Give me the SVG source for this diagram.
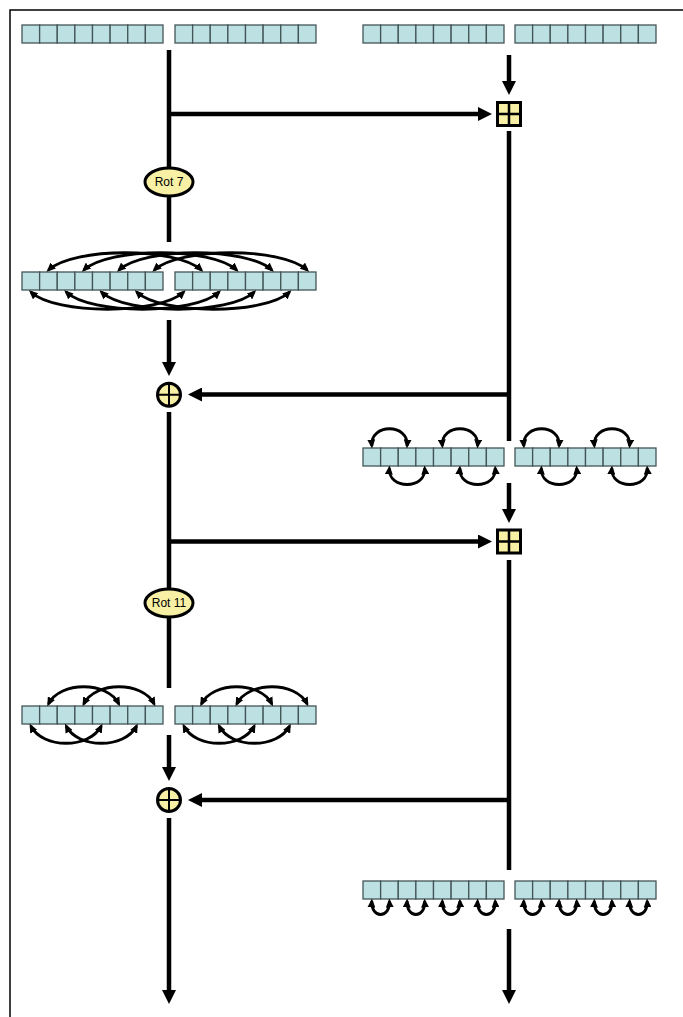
<svg xmlns="http://www.w3.org/2000/svg" width="683" height="1017" viewBox="0 0 683 1017">
<style>
.cell{fill:#bde0e3;stroke:#435556;stroke-width:1.3}
.wire{fill:none;stroke:#000;stroke-width:4.5}
.arr{marker-end:url(#big)}
.arc{fill:none;stroke:#000;stroke-width:2.8;marker-start:url(#sm);marker-end:url(#sm)}
.yel{fill:#f8f0a4;stroke:#000;stroke-width:3}
.lbl{font-family:"Liberation Sans",Arial,sans-serif;font-size:12px;fill:#000;text-anchor:middle}
.frame{fill:none;stroke:#000;stroke-width:1.5}
</style>
<defs>
<marker id="big" viewBox="0 0 14 14" refX="1" refY="7" markerWidth="14" markerHeight="14" markerUnits="userSpaceOnUse" orient="auto"><path d="M0,0 L14,7 L0,14 z" fill="#000"/></marker>
<marker id="sm" viewBox="0 0 9 8" refX="6.5" refY="4" markerWidth="9" markerHeight="8" markerUnits="userSpaceOnUse" orient="auto-start-reverse"><path d="M0,0 L9,4 L0,8 z" fill="#000"/></marker>
<g id="register">
<rect class="cell" x="0" y="0" width="17.625" height="18"/>
<rect class="cell" x="17.625" y="0" width="17.625" height="18"/>
<rect class="cell" x="35.25" y="0" width="17.625" height="18"/>
<rect class="cell" x="52.875" y="0" width="17.625" height="18"/>
<rect class="cell" x="70.5" y="0" width="17.625" height="18"/>
<rect class="cell" x="88.125" y="0" width="17.625" height="18"/>
<rect class="cell" x="105.75" y="0" width="17.625" height="18"/>
<rect class="cell" x="123.375" y="0" width="17.625" height="18"/>
</g>
</defs>
<rect width="683" height="1017" fill="#fff"/>
<path class="frame" d="M10,1017 V10 H683"/>

<g id="connectors">
<path class="wire" d="M169,50 V242"/>
<path class="wire arr" d="M169,114 H479"/>
<path class="wire arr" d="M509,55 V82"/>
<path class="wire" d="M509,131 V441"/>
<path class="wire arr" d="M169,320 V363"/>
<path class="wire arr" d="M509,394.5 H201"/>
<path class="wire" d="M169,412 V688"/>
<path class="wire arr" d="M169,541.5 H479"/>
<path class="wire arr" d="M509,483 V510"/>
<path class="wire" d="M509,560 V870"/>
<path class="wire arr" d="M509,800 H201"/>
<path class="wire arr" d="M169,735 V768"/>
<path class="wire arr" d="M169,818 V991"/>
<path class="wire arr" d="M509,929 V991"/>
</g>

<g id="row1">
<use href="#register" x="22" y="25"/>
<use href="#register" x="175" y="25"/>
<use href="#register" x="363" y="25"/>
<use href="#register" x="515" y="25"/>
</g>

<g id="rot7">
<ellipse class="yel" cx="169" cy="182" rx="24" ry="14"/>
<text class="lbl" x="169" y="186.3">Rot 7</text>
</g>

<g id="add1">
<rect class="yel" x="497.5" y="102.5" width="23" height="23"/>
<path d="M509,103 V125 M498,114 H520" stroke="#000" stroke-width="2.5"/>
</g>

<g id="row2">
<use href="#register" x="22" y="272"/>
<use href="#register" x="175" y="272"/>
<path class="arc" d="M48.4,270 C73.4,247 176.4,247 201.4,270"/>
<path class="arc" d="M83.7,270 C108.7,247 211.7,247 236.7,270"/>
<path class="arc" d="M118.9,270 C143.9,247 246.9,247 271.9,270"/>
<path class="arc" d="M154.2,270 C179.2,247 282.2,247 307.2,270"/>
<path class="arc" d="M30.8,292 C55.8,315 158.8,315 183.8,292"/>
<path class="arc" d="M66.1,292 C91.1,315 194.1,315 219.1,292"/>
<path class="arc" d="M101.3,292 C126.3,315 229.3,315 254.3,292"/>
<path class="arc" d="M136.6,292 C161.6,315 264.6,315 289.6,292"/>
</g>

<g id="xor1">
<circle class="yel" cx="169" cy="394.7" r="11.5"/>
<path d="M169,384 V405.4 M158.3,394.7 H179.7" stroke="#000" stroke-width="2"/>
</g>

<g id="row3">
<use href="#register" x="363" y="448"/>
<use href="#register" x="515" y="448"/>
<path class="arc" d="M371.8,446 C369.8,423 409.1,423 407.1,446"/>
<path class="arc" d="M442.3,446 C440.3,423 479.6,423 477.6,446"/>
<path class="arc" d="M523.8,446 C521.8,423 561.1,423 559.1,446"/>
<path class="arc" d="M594.3,446 C592.3,423 631.6,423 629.6,446"/>
<path class="arc" d="M389.4,468 C387.4,490 426.7,490 424.7,468"/>
<path class="arc" d="M459.9,468 C457.9,490 497.2,490 495.2,468"/>
<path class="arc" d="M541.4,468 C539.4,490 578.7,490 576.7,468"/>
<path class="arc" d="M611.9,468 C609.9,490 649.2,490 647.2,468"/>
</g>

<g id="add2">
<rect class="yel" x="497.5" y="530" width="23" height="23"/>
<path d="M509,530.5 V552.5 M498,541.5 H520" stroke="#000" stroke-width="2.5"/>
</g>

<g id="rot11">
<ellipse class="yel" cx="169" cy="603" rx="24" ry="14"/>
<text class="lbl" x="169" y="607.3">Rot 11</text>
</g>

<g id="row4">
<use href="#register" x="22" y="706"/>
<use href="#register" x="175" y="706"/>
<path class="arc" d="M48.4,704 C60.4,681 106.9,681 118.9,704"/>
<path class="arc" d="M83.7,704 C95.7,681 142.2,681 154.2,704"/>
<path class="arc" d="M201.4,704 C213.4,681 259.9,681 271.9,704"/>
<path class="arc" d="M236.7,704 C248.7,681 295.2,681 307.2,704"/>
<path class="arc" d="M30.8,726 C42.8,749 89.3,749 101.3,726"/>
<path class="arc" d="M66.1,726 C78.1,749 124.6,749 136.6,726"/>
<path class="arc" d="M183.8,726 C195.8,749 242.3,749 254.3,726"/>
<path class="arc" d="M219.1,726 C231.1,749 277.6,749 289.6,726"/>
</g>

<g id="xor2">
<circle class="yel" cx="169" cy="800" r="11.5"/>
<path d="M169,789.3 V810.7 M158.3,800 H179.7" stroke="#000" stroke-width="2"/>
</g>

<g id="row5">
<use href="#register" x="363" y="881"/>
<use href="#register" x="515" y="881"/>
<path class="arc" d="M371.8,901 C370.8,919 390.4,919 389.4,901"/>
<path class="arc" d="M407.1,901 C406.1,919 425.7,919 424.7,901"/>
<path class="arc" d="M442.3,901 C441.3,919 460.9,919 459.9,901"/>
<path class="arc" d="M477.6,901 C476.6,919 496.2,919 495.2,901"/>
<path class="arc" d="M523.8,901 C522.8,919 542.4,919 541.4,901"/>
<path class="arc" d="M559.1,901 C558.1,919 577.7,919 576.7,901"/>
<path class="arc" d="M594.3,901 C593.3,919 612.9,919 611.9,901"/>
<path class="arc" d="M629.6,901 C628.6,919 648.2,919 647.2,901"/>
</g>
</svg>
